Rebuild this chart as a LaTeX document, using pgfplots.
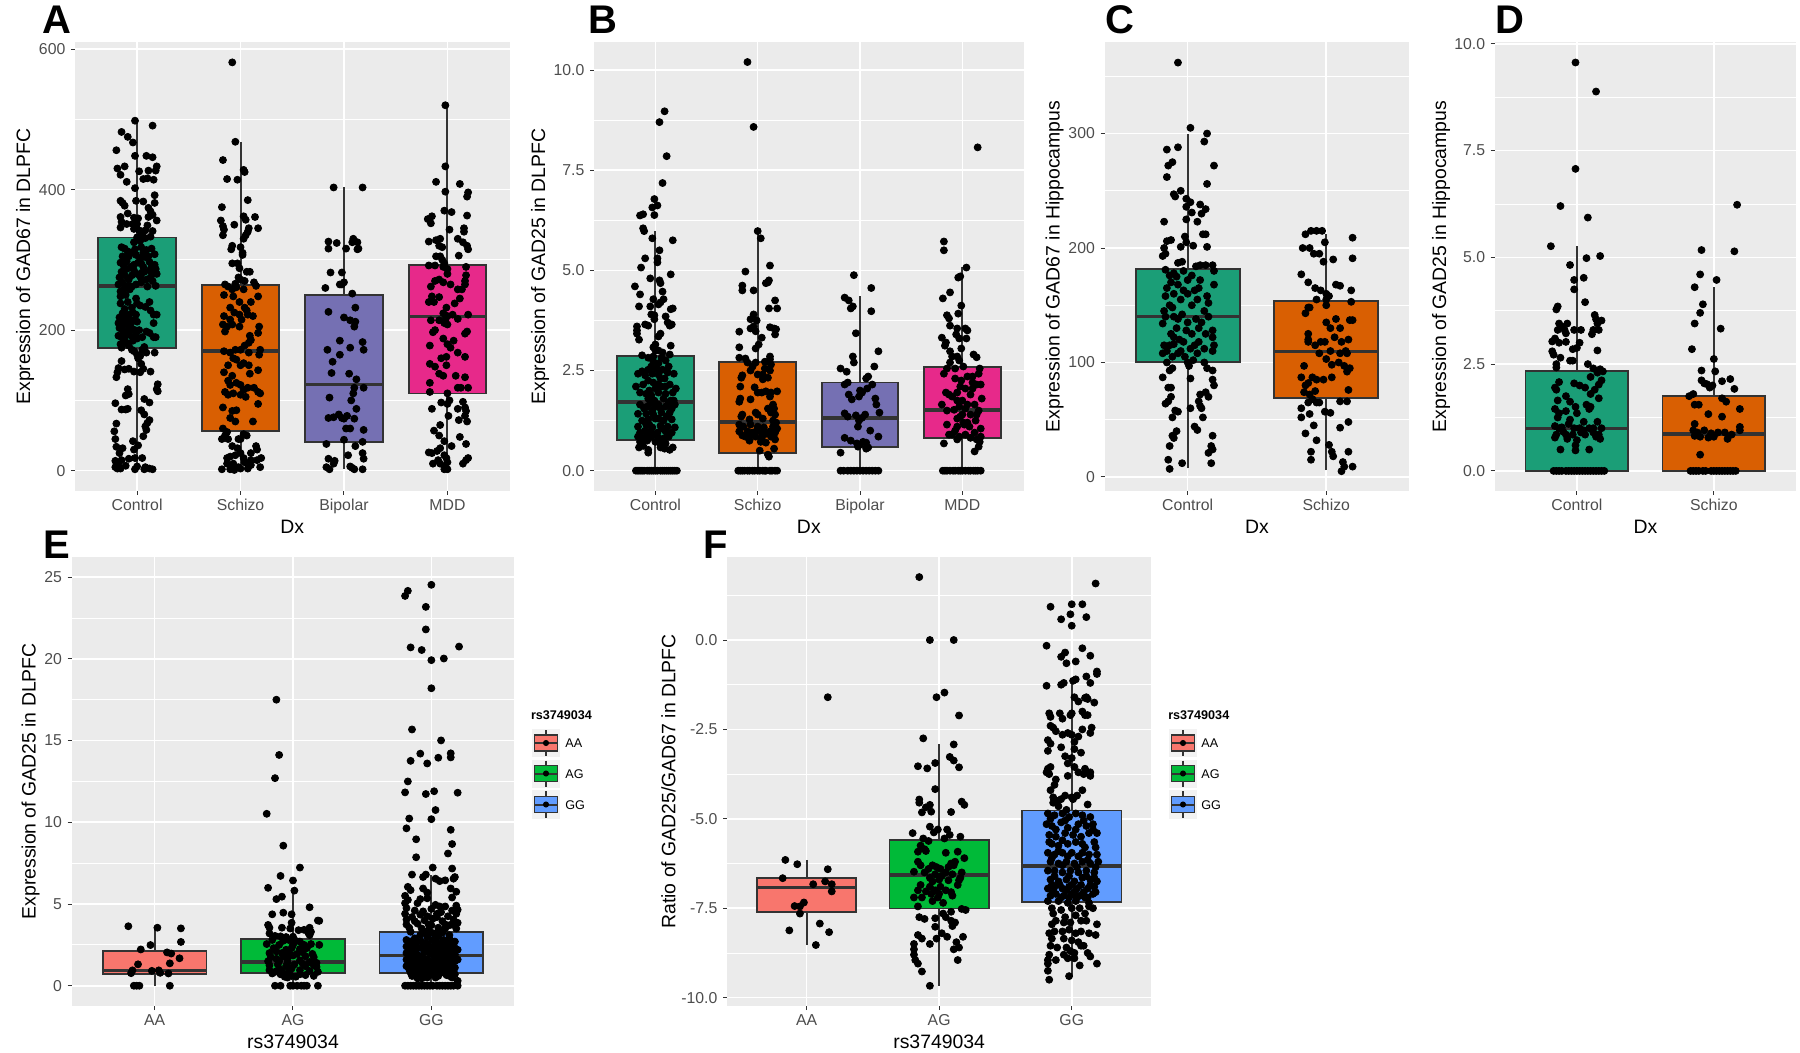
\documentclass[border=0pt]{standalone}
\usepackage{fontspec}
\setmainfont{Liberation Sans}
\usepackage{pgfplots}
\pgfplotsset{compat=1.18}
\definecolor{ggbg}{HTML}{EBEBEB}
\definecolor{ggtxt}{HTML}{4D4D4D}
\definecolor{ggdark}{HTML}{333333}
\definecolor{dkA}{HTML}{1B9E77}
\definecolor{dkB}{HTML}{D95F02}
\definecolor{dkC}{HTML}{7570B3}
\definecolor{dkD}{HTML}{E7298A}
\definecolor{snpA}{HTML}{F8766D}
\definecolor{snpB}{HTML}{00BA38}
\definecolor{snpC}{HTML}{619CFF}
\newcommand{\tickfont}{\fontsize{7.9}{9}\selectfont}
\newcommand{\titlefont}{\fontsize{9.7}{11}\selectfont}
\newcommand{\legfont}{\fontsize{6.3}{7}\selectfont}
% text at pixel position of the reference
\newcommand{\lab}[4]{\node[anchor=#3,inner sep=0pt] at (#1*0.5pt,-#2*0.5pt) {#4};}
% one box: x, left, right, whisker low, q1, median, q3, whisker high, fill
\newcommand{\ggbox}[9]{%
\addplot[ggdark,line width=1pt] coordinates {(#1,#4) (#1,#8)};
\addplot[draw=ggdark,fill=#9,line width=0.9pt] coordinates {(#2,#5) (#3,#5) (#3,#7) (#2,#7)} --cycle;
\addplot[ggdark,line width=1.8pt] coordinates {(#2,#6) (#3,#6)};}
\pgfplotsset{
  gg/.style={
    scale only axis, axis background/.style={fill=ggbg},
    axis line style={draw=none}, tick align=outside, xtick pos=bottom, ytick pos=left,
    major tick length=2pt, tick style={ggdark,line width=0.5pt}, minor tick length=0pt,
    xmajorgrids, ymajorgrids, yminorgrids,
    major grid style={white,line width=0.8pt}, minor grid style={white,line width=0.4pt},
    tick label style={font=\tickfont,text=ggtxt},
    xticklabel style={yshift=1.4pt}, yticklabel style={xshift=0.7pt},
    xlabel style={at={(rel axis cs:0.5,0)},anchor=center,yshift=-18pt,font=\titlefont},
    xtick={1,2,3,4},
  },
  pts/.style={only marks,mark=*,mark size=1.75pt,black,mark options={draw=black,fill=black}},
  ylab/.style={every axis y label/.style={at={(rel axis cs:0,0.5)},anchor=center,xshift=-#1*0.5pt,rotate=90,font=\titlefont}},
}
\newcommand{\legendkeys}[2]{%
\begin{axis}[at={(#1*0.5pt,-#2*0.5pt)},anchor=north west,scale only axis,width=14pt,height=45pt,hide axis,xmin=0,xmax=28,ymin=0,ymax=90,y dir=reverse,clip=false]
\addplot[fill=black!5,draw=none] coordinates {(0,0) (28,0) (28,28) (0,28)} --cycle;
\addplot[fill=black!5,draw=none] coordinates {(0,30.5) (28,30.5) (28,58.5) (0,58.5)} --cycle;
\addplot[fill=black!5,draw=none] coordinates {(0,61) (28,61) (28,90) (0,90)} --cycle;
\addplot[ggdark,line width=0.6pt] coordinates {(14,1) (14,27)};
\addplot[ggdark,line width=0.6pt] coordinates {(14,31.5) (14,57.5)};
\addplot[ggdark,line width=0.6pt] coordinates {(14,62) (14,89)};
\addplot[fill=snpA,draw=ggdark,line width=0.7pt] coordinates {(2.6,6) (25.5,6) (25.5,22) (2.6,22)} --cycle;
\addplot[fill=snpB,draw=ggdark,line width=0.7pt] coordinates {(2.6,36.5) (25.5,36.5) (25.5,52.5) (2.6,52.5)} --cycle;
\addplot[fill=snpC,draw=ggdark,line width=0.7pt] coordinates {(2.6,67.5) (25.5,67.5) (25.5,83.5) (2.6,83.5)} --cycle;
\addplot[ggdark,line width=1pt] coordinates {(2.6,14) (25.5,14)};
\addplot[ggdark,line width=1pt] coordinates {(2.6,44.5) (25.5,44.5)};
\addplot[ggdark,line width=1pt] coordinates {(2.6,75.5) (25.5,75.5)};
\addplot[only marks,mark=*,mark size=1.3pt,black] coordinates {(14,14) (14,44.5) (14,75.5)};
\end{axis}}
\begin{document}
\begin{tikzpicture}
\path[use as bounding box] (0,0) rectangle (900pt,-526.5pt);
% A
\begin{axis}[gg,ylab=50,at={(75*0.5pt,-42*0.5pt)},anchor=north west,width=217.25pt,height=224.5pt,xmin=0.4,xmax=4.6,ymin=-28.9,ymax=610,
 ytick={0,200,400,600},minor ytick={100,300,500},yticklabels={0,200,400,600},xticklabels={Control,Schizo,Bipolar,MDD},
 xlabel={Dx},ylabel={Expression of GAD67 in DLPFC}]
\ggbox{1}{0.625}{1.375}{0}{174}{262.7}{331.9}{498}{dkA}
\ggbox{2}{1.625}{2.375}{0}{55.9}{170}{263.7}{468}{dkB}
\ggbox{3}{2.625}{3.375}{2}{40.7}{122.5}{249.5}{403}{dkC}
\ggbox{4}{3.625}{4.375}{1}{109.8}{219.6}{292.6}{520.6}{dkD}
\addplot[pts] coordinates {(0.98,498)(1.15,491)(0.85,482)(0.91,475)(0.96,467)(0.80,456)(0.98,448)(1.09,448)(1.15,446)(1.19,433)(0.81,430)(0.88,433)(1.02,426)(1.11,427)(1.18,427)(0.84,421)(0.90,411)(1.06,415)(1.10,416)(1.16,414)(0.98,402)(1.17,392)(0.99,384)(1.06,383)(0.84,384)(0.86,381)(0.88,377)(1.17,381)(1.11,374)(1.13,369)(1.15,364)(0.84,361)(0.91,366)(0.97,360)(1.01,359)(1.11,361)(1.19,356)(0.85,354)(0.90,351)(0.96,351)(1.0,351)(1.10,349)(0.84,346)(0.97,344)(1.02,342)(1.15,341)(1.08,342)(1.05,335)(1.13,333)(1.0,332)(0.97,325)(1.03,327)(1.08,331)
(0.85,318)(0.88,316)(0.91,312)(0.98,315)(1.04,318)(1.09,314)(1.14,316)(0.86,305)(0.92,305)(0.99,307)(1.03,302)(1.08,304)(1.17,308)(0.84,296)(0.9,298)(0.97,293)(1.01,296)(1.06,290)(1.12,297)(1.17,293)(0.85,283)(0.9,287)(0.97,285)(1.0,280)(1.07,283)(1.12,285)(1.18,287)(0.83,275)(0.88,278)(0.92,272)(1.03,276)(1.09,272)(1.13,275)(1.19,280)(0.82,265)(0.86,268)(0.91,263)(0.95,262)(0.99,265)(1.04,268)(1.1,262)(1.15,270)(1.18,263)(0.84,255)(0.87,258)(0.99,245)(1.03,235)(1.08,233)(1.12,240)(0.84,238)(0.88,230)(1.0,238)(1.13,228)(1.16,222)(1.19,222)(0.83,218)(0.86,224)(0.92,222)(0.96,225)(0.99,222)(0.82,210)(0.85,214)(0.89,210)(0.92,206)(0.96,214)(1.0,212)(1.16,210)(0.83,203)(0.87,198)(0.91,198)(0.95,202)(1.02,200)(1.09,198)(1.12,196)(0.85,190)(0.88,190)(0.93,193)(0.99,192)(1.16,190)(1.18,190)(0.82,192)(0.84,180)(0.87,186)(0.85,175)(0.92,178)(0.95,172)(1.07,176)
(0.94,310)(1.06,310)(1.11,305)(0.94,290)(1.04,295)(1.14,290)(0.87,292)(0.95,278)(1.05,282)(1.15,280)(0.93,258)(0.89,250)(0.84,248)(0.91,240)(0.95,232)(0.9,218)(0.94,210)(0.98,200)(0.86,205)(1.0,188)(1.05,190)(0.96,185)(0.9,182)
(0.97,170)(1.0,165)(1.05,172)(1.09,168)(1.17,168)(1.01,160)(1.03,163)(0.85,156)(0.82,146)(0.81,140)(0.80,133)(0.88,144)(0.92,145)(0.97,141)(1.04,152)(1.06,145)(1.03,140)(1.13,141)(1.2,123)(1.19,116)(1.2,113)(0.91,116)(0.92,109)(0.89,107)(0.79,96)(1.07,102)(1.12,97)(0.85,87)(0.89,87)(0.91,88)(1.04,86)(1.07,80)(1.12,72)(1.1,68)(1.08,63)(1.09,58)(0.8,67)(0.78,56)(0.79,45)(1.06,49)(0.96,42)(0.8,34)(0.86,32)(1.01,36)(0.97,30)(0.83,25)(0.85,15)(0.92,17)(0.79,14)(0.98,18)(1.05,18)(0.79,5)(0.84,3)(0.89,7)(0.98,2)(1.0,6)(1.07,2)(1.08,5)(1.12,3)(1.15,2)(0.82,8)(0.81,3)};
\addplot[pts] coordinates {(1.92,581)(1.95,468)(1.83,442)(2.03,428)(2.04,425)(1.87,415)(1.97,414)(2.07,385)(1.82,375)(2.03,362)(2.05,357)(2.14,361)(1.81,356)(1.83,348)(1.84,343)(1.94,350)(2.17,345)(2.08,345)(2.07,340)(2.05,335)(2.03,330)(1.83,335)(1.91,315)(1.92,320)(2,318)(2.02,310)(2.02,307)(1.92,295)(1.97,295)(1.99,288)(2.06,283)(2.09,283)(1.98,275)(2,272)(2.04,270)(1.95,266)(2.13,268)(2.15,263)(1.85,265)(1.88,262)(1.92,258)(1.96,261)(2.03,258)(1.84,250)(1.93,248)(2.17,248)(1.9,232)(1.99,240)(2.1,240)(2.04,232)(2.06,228)(1.94,225)(2.07,222)(2.12,220)(1.84,220)(1.9,215)(1.99,222)(2.01,215)(1.83,208)(1.87,205)(1.92,208)(1.99,205)(2.18,205)(1.85,198)(2.09,192)(2.17,196)(2.1,186)(2.08,182)(2.04,178)(2.19,172)(2.18,165)(1.84,170)(1.9,168)(1.95,172)(2,172)(2.08,168)(1.93,160)(1.96,158)(2,150)(2.03,153)(2.08,150)(1.88,150)(1.84,140)(2.17,143)(1.92,135)(2.09,138)(1.88,128)(1.9,122)(1.96,125)(2,122)(2.03,115)(2.07,118)(2.13,118)(2.17,112)(2.19,110)(1.85,112)(1.88,108)(1.93,110)(2,108)(2.05,105)(1.83,90)(2.17,95)(1.92,85)(1.96,86)(1.9,75)(1.95,70)(2.12,70)(1.83,60)(1.87,55)(1.85,50)(2.03,52)(2.06,50)(2.0,45)(1.98,45)(1.82,45)(1.88,45)(1.92,35)(1.97,32)(2.15,35)(2.16,30)(2.1,25)(2.0,25)(1.87,18)(1.9,20)(1.95,22)(2.03,18)(2.1,15)(2.16,15)(2.2,18)(1.87,10)(1.93,10)(1.98,5)(2.04,12)(2.1,8)(2.19,5)(1.82,2)(1.9,2)(1.94,1)(2,3)(2.07,3)(2.08,8)};
\addplot[pts] coordinates {(2.9,403)(3.18,403)(3.09,330)(3.08,325)(3.13,325)(2.85,326)(2.93,324)(3.13,315)(2.85,316)(3.02,316)(3.14,316)(2.87,282)(2.98,282)(2.96,265)(2.98,265)(2.82,260)(3.0,268)(3.08,252)(3.11,232)(2.85,226)(3.0,218)(3.06,214)(3.11,212)(3.1,205)(3.18,183)(2.96,185)(3.06,175)(3.19,172)(2.84,172)(2.96,165)(2.89,155)(2.88,139)(3.05,138)(3.12,130)(3.1,118)(3.19,118)(3.09,110)(2.86,104)(3.07,100)(3.12,88)(3.03,78)(2.9,76)(2.95,80)(2.85,75)(2.98,75)(3.0,74)(3.1,74)(3.02,60)(3.06,60)(3.19,58)(3,44)(2.83,38)(3.18,41)(3.11,35)(2.85,17)(3.18,25)(3.04,22)(2.91,14)(3.19,17)(2.9,10)(2.83,5)(3.06,6)(3.08,4)(2.86,2)(3.1,2)(3.18,2)};
\addplot[pts] coordinates {(3.98,520)(3.98,433)(3.89,411)(4.12,408)(3.98,397)(4.2,396)(4.19,390)(3.97,370)(4.04,368)(3.81,358)(3.85,362)(4.19,363)(3.84,352)(4.16,345)(4.16,340)(4.02,343)(3.82,326)(3.89,328)(3.93,330)(4.1,330)(4.15,325)(3.92,320)(3.95,318)(4.19,320)(3.93,305)(3.89,305)(3.95,300)(4.2,315)(4.11,306)(3.97,295)(4.0,287)(3.96,290)(3.88,292)(3.82,292)(4.18,290)(4.0,280)(4.18,278)(4.17,270)(3.88,270)(3.92,272)(3.84,262)(4.03,265)(4.17,265)(3.96,268)(4.1,258)(4.14,258)(3.85,248)(3.82,240)(3.87,240)(3.92,247)(4.07,238)(4.12,245)(3.99,232)(3.96,224)(4.0,220)(3.98,215)(4.05,222)(4.2,222)(4.1,216)(3.84,214)(3.92,214)(3.97,210)(4.0,208)(3.88,200)(3.86,197)(4.19,198)(4.17,195)(3.96,188)(4.06,185)(4.0,180)(4.03,175)(3.83,178)(4.1,168)(3.94,160)(3.99,162)(4.17,162)(3.83,152)(3.88,148)(3.99,150)(3.92,138)(3.96,135)(4.08,135)(4.17,133)(3.83,125)(4.1,118)(4.13,118)(4.2,118)(3.83,112)(4.0,110)(4.02,100)(3.94,97)(4.0,95)(4.15,98)(4.17,90)(4.18,85)(3.85,88)(4.1,88)(4.17,78)(4.01,78)(3.93,65)(4.11,72)(4.19,70)(3.87,57)(3.92,50)(4.12,48)(3.97,42)(4.18,38)(3.93,32)(3.9,28)(3.82,26)(3.85,25)(4.04,35)(3.97,22)(3.99,18)(4.2,18)(4.18,15)(3.91,15)(4,12)(3.86,10)(3.93,10)(4.15,10)(3.98,5)(4.0,2)(3.97,2)};
\end{axis}
% B
\begin{axis}[gg,ylab=54,at={(594*0.5pt,-42*0.5pt)},anchor=north west,width=214.85pt,height=224.5pt,xmin=0.4,xmax=4.6,ymin=-0.507,ymax=10.7,
 ytick={0,2.5,5,7.5,10},minor ytick={1.25,3.75,6.25,8.75},yticklabels={0.0,2.5,5.0,7.5,10.0},xticklabels={Control,Schizo,Bipolar,MDD},
 xlabel={Dx},ylabel={Expression of GAD25 in DLPFC}]
\ggbox{1}{0.625}{1.375}{0}{0.77}{1.72}{2.87}{5.98}{dkA}
\ggbox{2}{1.625}{2.375}{0}{0.44}{1.22}{2.72}{6.0}{dkB}
\ggbox{3}{2.625}{3.375}{0}{0.6}{1.32}{2.2}{4.36}{dkC}
\ggbox{4}{3.625}{4.375}{0}{0.81}{1.52}{2.58}{5.09}{dkD}
\addplot[pts] coordinates {(1.09,8.97)(1.04,8.7)(1.11,7.85)(1.07,7.18)(0.99,6.78)(1.02,6.62)(0.97,6.57)(0.99,6.38)(0.85,6.37)(0.88,6.4)(0.88,6.05)(0.89,5.98)(0.97,5.8)(1.17,5.75)(1.04,5.5)(1.02,5.3)(1.02,5.2)(0.9,5.3)(0.86,5.07)(1.15,4.9)(0.95,4.8)(1.04,4.75)(1.05,4.68)(0.8,4.6)(1.07,4.47)(0.85,4.4)(0.98,4.28)(1.08,4.28)(1.05,4.2)(1.03,4.15)(0.84,4.1)(0.95,4.1)(1.17,4.05)(1.15,4.03)(0.96,3.9)(0.99,3.88)(1.1,3.85)(0.99,3.78)(1.12,3.7)(0.82,3.6)(0.9,3.65)(0.93,3.62)(1.14,3.62)(1.16,3.65)(0.82,3.5)(0.82,3.42)(1.05,3.42)(1.03,3.35)(0.84,3.27)(1.0,3.15)(0.98,3.08)(1.15,3.12)(1.0,3.0)(1.03,3.0)(1.07,2.95)(1.14,2.9)(0.87,2.88)(0.93,2.82)(0.98,2.85)(1.06,2.82)(1.1,2.75)(0.98,2.72)(1.03,2.68)(1.13,2.6)(0.93,2.52)(1.01,2.55)(1.07,2.52)(0.87,2.48)(0.83,2.42)(0.9,2.38)(0.97,2.42)(1.03,2.4)(1.12,2.45)(1.18,2.42)(1.09,2.3)(0.93,2.25)(0.98,2.2)(1.03,2.15)(1.14,2.15)(0.81,2.1)(1.06,2.1)(1.2,2.05)(0.85,1.95)(0.91,1.92)(0.96,1.88)(1.03,1.95)(1.1,1.92)(1.17,1.95)(0.93,1.8)(0.99,1.75)(1.08,1.8)(1.15,1.75)(1.18,1.75)(0.85,1.65)(0.95,1.68)(1.03,1.65)(1.1,1.6)(1.19,1.65)(0.89,1.55)(0.97,1.5)(1.05,1.55)(1.16,1.55)(0.83,1.42)(0.91,1.42)(0.98,1.4)(1.06,1.45)(1.14,1.45)(0.87,1.25)(0.93,1.28)(1.0,1.3)(1.08,1.25)(1.16,1.28)(0.83,1.1)(0.91,1.15)(0.97,1.08)(1.05,1.12)(1.12,1.1)(1.19,1.08)(0.85,0.95)(0.95,0.98)(1.02,0.95)(1.1,0.98)(1.16,0.95)(0.83,0.85)(0.89,0.82)(0.96,0.85)(1.03,0.82)(1.08,0.8)(0.85,0.72)(0.92,0.75)(1.0,0.72)(1.05,0.65)(1.1,0.68)(0.84,0.58)(0.88,0.62)(1.05,0.58)(1.09,0.55)(1.17,0.58)(0.93,0.52)(0.93,0.45)(1.14,0.52)
(0.96,2.6)(1.05,2.3)(1.1,2.1)(0.88,2.15)(1.0,2.05)(0.94,2.0)(1.13,1.7)(1.0,1.6)(0.92,1.6)(1.11,1.35)(1.03,1.3)(0.94,1.15)(1.07,1.05)(0.9,1.0)(1.0,0.9)(0.92,0.88)(1.13,0.85)(0.81,0)(0.83,0)(0.85,0)(0.87,0)(0.89,0)(0.92,0)(0.94,0)(0.96,0)(0.98,0)(1.0,0)(1.02,0)(1.05,0)(1.07,0)(1.09,0)(1.11,0)(1.13,0)(1.15,0)(1.17,0)(1.19,0)(1.21,0)};
\addplot[pts] coordinates {(1.9,10.2)(1.96,8.58)(2.0,5.98)(2.03,5.8)(2.12,5.12)(2.11,4.75)(2.1,4.7)(1.88,4.97)(2.08,4.68)(1.85,4.62)(1.85,4.5)(1.96,4.5)(2.17,4.25)(2.11,4.05)(2.19,4.05)(1.96,3.9)(1.93,3.78)(1.99,3.75)(1.96,3.6)(2.12,3.58)(2.16,3.55)(2.18,3.53)(1.93,3.55)(1.98,3.48)(1.82,3.47)(2.04,3.32)(2.17,3.4)(2.01,3.15)(1.98,3.05)(1.82,3.08)(2.12,2.85)(1.82,2.82)(1.88,2.8)(2.12,2.78)(1.9,2.7)(1.98,2.7)(2.07,2.72)(2.13,2.65)(1.95,2.6)(2.07,2.55)(1.93,2.5)(2.12,2.5)(1.85,2.38)(2.0,2.4)(2.05,2.4)(2.1,2.32)(1.84,2.32)(2.05,2.28)(2.0,1.95)(1.83,2.1)(1.97,2.08)(2.04,1.95)(2.08,1.98)(2.19,1.98)(2.13,1.95)(2.12,1.85)(1.83,1.8)(1.82,1.72)(1.93,1.78)(2.15,1.65)(2.16,1.55)(1.85,1.4)(1.84,1.35)(1.98,1.45)(2.0,1.4)(2.05,1.3)(2.17,1.4)(2.15,1.25)(1.92,1.28)(1.82,1.15)(1.86,1.1)(1.93,1.15)(2.0,1.1)(2.06,1.08)(2.15,1.1)(2.19,1.05)(1.82,0.98)(1.9,0.98)(1.95,0.95)(2.04,0.95)(2.08,0.92)(2.17,0.95)(1.85,0.88)(1.93,0.88)(2.13,0.85)(2.17,0.78)(1.92,0.75)(2.03,0.72)(2.08,0.7)(2.16,0.55)(2.02,0.5)(2.1,0.4)(2.11,0.35)
(2.1,1.55)(2.13,1.45)(2.18,1.2)(1.98,0.85)(2.12,0.98)(2.04,0.82)(1.88,0.85)(1.99,1.0)
(1.81,0)(1.83,0)(1.85,0)(1.87,0)(1.9,0)(1.92,0)(1.95,0)(1.97,0)(2.0,0)(2.02,0)(2.05,0)(2.07,0)(2.08,0)(2.12,0)(2.14,0)(2.17,0)(2.19,0)};
\addplot[pts] coordinates {(2.94,4.88)(3.11,4.56)(2.85,4.32)(2.89,4.25)(2.93,4.1)(2.91,4.05)(3.11,3.98)(2.96,3.43)(3.18,2.98)(2.93,2.85)(2.94,2.7)(3.14,2.6)(2.81,2.55)(2.87,2.47)(3.08,2.35)(3.06,2.3)(2.88,2.2)(2.85,2.15)(3.12,2.15)(3.07,2.05)(3,2.0)(2.89,1.9)(3.02,1.95)(2.99,1.85)(2.92,1.78)(3.15,1.8)(3.16,1.65)(3.19,1.45)(2.85,1.43)(2.88,1.35)(2.96,1.38)(2.99,1.25)(3.02,1.32)(3.05,1.4)(2.98,1.1)(3.1,1.0)(3.18,0.85)(2.85,0.82)(2.91,0.75)(2.97,0.68)(3,0.65)(3.03,0.72)(3.06,0.7)(2.98,0.6)(3.08,0.58)(3.06,0.55)(2.81,0.45)
(2.81,0)(2.84,0)(2.88,0)(2.91,0)(2.94,0)(2.97,0)(3.0,0)(3.03,0)(3.06,0)(3.09,0)(3.12,0)(3.15,0)(3.18,0)};
\addplot[pts] coordinates {(4.15,8.07)(3.82,5.72)(3.82,5.5)(4.04,5.07)(3.98,4.85)(3.96,4.82)(3.81,4.3)(3.88,4.45)(3.99,4.12)(3.85,3.88)(3.96,3.92)(3.87,3.8)(3.88,3.62)(3.95,3.55)(4.03,3.55)(4.05,3.5)(3.94,3.4)(3.97,3.3)(4.04,3.3)(3.8,3.32)(3.84,3.2)(3.83,3.12)(3.99,3.05)(3.88,2.98)(4.11,2.9)(3.9,2.85)(4.14,2.83)(3.95,2.85)(3.97,2.75)(3.88,2.7)(4.17,2.55)(3.85,2.55)(3.93,2.55)(4.01,2.6)(3.82,2.42)(4.1,2.35)(4.05,2.35)(4.16,2.42)(3.99,2.25)(4.1,2.2)(4.14,2.15)(4.18,2.15)(3.84,1.95)(3.87,1.9)(3.95,1.95)(4.03,2.05)(4.08,1.9)(4.19,1.8)(3.9,1.85)(3.95,1.75)(4.0,1.75)(3.8,1.65)(4.05,1.65)(4.12,1.65)(4.03,1.55)(4.16,1.5)(3.85,1.5)(3.92,1.52)(4,1.4)(4.08,1.4)(4.14,1.4)(3.95,1.3)(4.01,1.2)(4.05,1.2)(4.13,1.25)(3.85,1.15)(3.95,1.1)(4.02,1.15)(4.18,1.05)(3.87,0.9)(3.9,0.9)(4.03,0.9)(3.97,0.85)(4.08,0.82)(4.18,0.85)(3.95,0.78)(4.14,0.78)(3.82,0.68)(4.17,0.72)(4.16,0.6)(4.12,0.48)
(3.93,2.3)(3.98,2.1)(3.97,1.6)(4.07,1.1)(3.98,1.35)(4.1,2.05)(3.93,1.0)(4.12,0.95)
(3.81,0)(3.83,0)(3.85,0)(3.88,0)(3.91,0)(3.93,0)(3.96,0)(3.98,0)(4.0,0)(4.03,0)(4.06,0)(4.08,0)(4.11,0)(4.13,0)(4.15,0)(4.18,0)};
\end{axis}
% C
\begin{axis}[gg,ylab=50,at={(1104.5*0.5pt,-42*0.5pt)},anchor=north west,width=152.45pt,height=224.5pt,xmin=0.4,xmax=2.6,ymin=-12.3,ymax=380,
 ytick={0,100,200,300},minor ytick={50,150,250,350},yticklabels={0,100,200,300},xtick={1,2},xticklabels={Control,Schizo},
 xlabel={Dx},ylabel={Expression of GAD67 in Hippocampus}]
\ggbox{1}{0.625}{1.375}{7.5}{100.5}{140}{182}{300}{dkA}
\ggbox{2}{1.625}{2.375}{6}{69}{109.5}{153.5}{212}{dkB}
\addplot[pts] coordinates {(0.93,362)(1.02,305)(1.14,300)(1.12,293)(0.85,286)(0.93,288)(0.89,275)(0.86,272)(1.19,272)(0.85,262)(1.14,256)(0.95,250)(0.9,247)(0.91,245)(0.99,243)(1.02,240)(0.99,236)(1.09,238)(1.13,234)(1.03,231)(1.1,230)(0.99,225)(1.07,223)(0.83,223)(1.11,212)(1.13,212)(0.98,210)(0.88,207)(0.85,206)(0.83,200)(0.99,205)(0.95,201)(1.04,202)(1.14,201)(0.84,195)(0.82,193)(0.93,187)(0.96,188)(1.06,184)(1.09,185)(1.13,185)(1.18,185)(0.97,180)(0.84,181)(0.9,178)(1.03,176)(1.19,180)(0.88,170)(0.93,168)(1.0,172)(1.09,172)(1.19,168)(0.85,165)(0.97,163)(1.05,163)(1.14,158)(0.84,158)(0.9,160)(1.0,160)(1.07,155)(1.15,152)(0.83,145)(0.89,148)(0.96,142)(1.03,150)(1.12,145)(0.84,140)(0.93,138)(1.0,135)(1.06,138)(1.15,140)(0.82,134)(0.92,130)(0.99,128)(1.1,135)(1.18,128)(0.88,125)(0.94,120)(1.03,125)(1.18,122)(0.83,115)(0.9,116)(0.97,118)(1.08,118)(1.19,115)(0.85,110)(0.95,110)(1.02,112)(1.12,112)(0.82,108)(0.89,105)(0.98,105)(1.07,108)(1.18,110)(0.85,100)(1.0,100)(1.04,102)(1.12,100)(0.89,95)(1.01,97)(1.14,95)(1.18,93)(0.87,93)(0.82,87)(1.02,86)(1.18,85)(0.88,78)(0.86,78)(1.13,74)(1.19,80)(1.15,70)(1.09,72)(0.88,70)(0.84,64)(0.86,66)(1.08,66)(1.09,62)(1.1,60)(0.91,58)(0.93,57)(0.89,52)(1.02,60)(1.11,52)(1.05,44)(1.07,41)(0.92,40)(0.89,36)(0.9,34)(1.18,36)(1.17,27)(1.18,24)(1.15,21)(0.87,27)(0.86,15)(0.96,12)(1.17,12)(0.87,7)
(0.87,176)(0.92,175)(0.87,150)(1.08,165)(0.95,155)(0.9,140)(1.08,130)(0.9,122)(1.05,115)(0.93,108)(0.87,115)(1.13,125)};
\addplot[pts] coordinates {(1.85,212)(1.89,215)(1.93,215)(1.97,215)(2.19,209)(1.88,200)(1.83,200)(1.99,205)(1.91,195)(1.95,195)(2.19,191)(2.05,190)(1.98,188)(1.82,177)(1.87,170)(2.07,168)(2.1,167)(1.92,165)(1.96,163)(2,160)(2.18,163)(2.02,158)(2.0,155)(1.93,155)(2.0,150)(2.18,153)(1.88,148)(1.85,143)(1.87,148)(2.07,138)(2.17,137)(2.19,137)(2.0,135)(2.03,130)(2.1,130)(1.87,125)(2.06,122)(1.87,120)(2.16,120)(1.96,118)(1.92,115)(1.99,118)(2.11,118)(1.87,118)(2.14,110)(2.03,110)(2.1,108)(2.15,108)(1.95,108)(2.0,103)(2.09,100)(2.04,98)(2.13,97)(1.84,97)(2.17,95)(2.15,92)(2.04,87)(1.82,87)(1.9,87)(1.98,85)(1.93,85)(1.87,82)(1.85,80)(2.16,76)(1.92,75)(1.84,74)(1.88,72)(1.9,68)(1.87,65)(1.93,65)(1.95,65)(2.1,66)(2.15,66)(1.82,60)(1.99,57)(2.03,56)(1.88,55)(1.82,52)(2.16,48)(1.91,45)(2.1,43)(1.85,38)(1.93,32)(2.02,28)(2.04,22)(1.89,22)(2.16,22)(2.05,18)(1.89,15)(2.12,13)(2.13,9)(2.19,9)(2.11,5)};
\end{axis}
% D
\begin{axis}[gg,ylab=53.7,at={(1494.7*0.5pt,-42*0.5pt)},anchor=north west,width=150.65pt,height=224.5pt,xmin=0.4,xmax=2.6,ymin=-0.47,ymax=10.04,
 ytick={0,2.5,5,7.5,10},minor ytick={1.25,3.75,6.25,8.75},yticklabels={0.0,2.5,5.0,7.5,10.0},xtick={1,2},xticklabels={Control,Schizo},
 xlabel={Dx},ylabel={Expression of GAD25 in Hippocampus}]
\ggbox{1}{0.625}{1.375}{0}{0}{0.99}{2.34}{5.26}{dkA}
\ggbox{2}{1.625}{2.375}{0}{0}{0.86}{1.75}{4.3}{dkB}
\addplot[pts] coordinates {(0.99,9.56)(1.14,8.88)(0.99,7.07)(0.88,6.2)(1.08,5.93)(0.81,5.26)(1.07,4.98)(1.17,5.03)(0.95,4.82)(0.98,4.47)(1.05,4.52)(0.98,4.25)(1.06,3.95)(0.86,3.85)(0.85,3.78)(1.13,3.65)(1.14,3.55)(1.15,3.45)(1.18,3.52)(0.87,3.45)(0.89,3.38)(0.93,3.45)(0.86,3.3)(0.91,3.3)(0.92,3.22)(0.98,3.3)(1.03,3.3)(1.12,3.3)(1.16,3.3)(1.11,3.2)(0.84,3.1)(0.82,3.03)(0.87,3.0)(0.92,3.02)(1.02,3.0)(0.97,2.85)(1.0,2.88)(1.15,2.82)(0.82,2.8)(0.83,2.72)(0.88,2.65)(0.95,2.58)(0.97,2.58)(1.08,2.5)(0.85,2.5)(0.85,2.42)(1.12,2.4)(1.17,2.38)(1.19,2.33)(1.15,2.3)(1.1,2.2)(1.18,2.12)(0.87,2.08)(0.98,2.05)(1.02,2.0)(0.84,1.95)(0.85,1.9)(1.06,1.95)(1.13,1.9)(1.16,2.02)(0.92,1.75)(1.1,1.8)(1.16,1.7)(0.86,1.65)(0.95,1.62)(0.99,1.5)(1.07,1.55)(1.09,1.45)(0.84,1.45)(0.87,1.35)(0.92,1.4)(1.0,1.35)(1.1,1.5)(0.86,1.25)(0.95,1.2)(1.05,1.15)(1.15,1.15)(0.84,1.05)(0.89,1.02)(0.94,1.1)(1.02,1.0)(1.09,1.0)(1.18,1.0)(0.85,0.85)(0.9,0.92)(0.97,0.85)(1.03,0.9)(1.12,0.9)(1.14,0.8)(0.84,0.78)(0.93,0.75)(1.0,0.72)(1.17,0.75)(0.99,0.6)(0.99,0.48)(0.88,0.5)(1.09,0.5)
(1.06,0.85)(0.92,0.85)(1.05,0.95)(0.98,1.0)(1.12,1.0)(1.16,0.85)(0.87,1.0)
(0.83,0)(0.85,0)(0.87,0)(0.89,0)(0.92,0)(0.94,0)(0.96,0)(0.98,0)(1.0,0)(1.02,0)(1.04,0)(1.06,0)(1.08,0)(1.1,0)(1.12,0)(1.14,0)(1.16,0)(1.18,0)(1.2,0)};
\addplot[pts] coordinates {(2.17,6.23)(1.91,5.17)(2.15,5.14)(1.9,4.6)(2.02,4.47)(1.86,4.3)(1.92,3.9)(1.9,3.7)(1.86,3.45)(2.05,3.33)(1.84,2.85)(2,2.62)(1.91,2.35)(2.01,2.33)(1.91,2.12)(1.93,2.05)(2.12,2.15)(2.06,2.1)(1.95,2.03)(1.97,1.95)(1.99,2.0)(2.15,1.92)(1.85,1.8)(1.82,1.75)(1.86,1.55)(2.06,1.7)(2.09,1.62)(1.89,1.55)(2.19,1.45)(1.96,1.33)(2.06,1.27)(1.86,1.1)(2.19,1.03)(1.85,0.95)(1.88,0.9)(1.93,0.95)(1.98,0.88)(2.03,0.9)(2.08,0.9)(2.13,0.85)(2.19,0.95)(1.86,0.82)(1.9,0.8)(1.96,0.78)(2.0,0.8)(2.1,0.75)(1.9,0.38)
(1.83,0)(1.85,0)(1.87,0)(1.89,0)(1.92,0)(1.94,0)(1.98,0)(2.0,0)(2.02,0)(2.04,0)(2.06,0)(2.08,0)(2.1,0)(2.12,0)(2.14,0)(2.16,0)};
\end{axis}
% E
\begin{axis}[gg,ylab=41,at={(71.6*0.5pt,-556.7*0.5pt)},anchor=north west,width=221.4pt,height=224.65pt,xmin=0.4,xmax=3.6,ymin=-1.24,ymax=26.25,
 ytick={0,5,10,15,20,25},minor ytick={2.5,7.5,12.5,17.5,22.5},yticklabels={0,5,10,15,20,25},xtick={1,2,3},xticklabels={AA,AG,GG},
 xlabel={rs3749034},ylabel={Expression of GAD25 in DLPFC}]
\ggbox{1}{0.625}{1.375}{0}{0.71}{0.94}{2.14}{3.64}{snpA}
\ggbox{2}{1.625}{2.375}{0}{0.77}{1.46}{2.85}{5.93}{snpB}
\ggbox{3}{2.625}{3.375}{0}{0.79}{1.85}{3.28}{6.76}{snpC}
\addplot[pts] coordinates {(0.81,3.64)(1.02,3.55)(1.19,3.51)(1.19,2.68)(0.97,2.49)(0.9,2.22)(1.09,2.04)(1.12,1.97)(1.18,1.68)(1.11,1.37)(0.88,1.31)(0.98,0.91)(1.03,0.94)(1.04,0.79)(0.84,0.94)(0.83,0.77)(1.1,0.75)(0.85,0)(0.87,0)(0.89,0)(1.11,0)};
\addplot[pts] coordinates {(1.88,17.5)(1.9,14.12)(1.87,12.7)(1.81,10.52)(1.93,8.57)(2.05,7.23)(1.91,6.72)(2,6.44)(1.82,5.99)(2.01,5.82)(1.92,5.45)(1.88,5.3)(2.12,4.8)(1.85,4.37)(1.93,4.47)(1.99,4.37)(2.18,3.99)(2.19,3.97)(1.99,3.85)(1.82,3.72)(1.83,3.55)(1.92,3.55)(1.98,3.5)(2.04,3.4)(2.08,3.42)(2.12,3.55)(2.13,3.3)(2.11,3.25)(1.83,3.2)(1.87,3.05)(1.91,3.02)(1.95,2.98)(2,3)(2.12,3.1)(1.85,2.8)(1.97,2.8)(2.02,2.75)(1.81,2.55)(1.9,2.5)(2.0,2.5)(2.08,2.5)(2.13,2.55)(2.19,2.5)(1.95,2.2)(2.05,2.25)(2.1,2.3)(1.83,2.0)(1.88,2.1)(1.97,2.0)(2.07,2.05)(2.14,1.95)(1.84,1.75)(1.93,1.8)(2.0,1.85)(2.09,1.8)(2.15,1.75)(1.82,1.5)(1.9,1.5)(1.96,1.4)(2.05,1.55)(2.12,1.45)(2.17,1.4)(1.83,1.25)(1.89,1.3)(1.95,1.2)(2.01,1.3)(2.09,1.2)(2.17,1.15)(1.83,0.95)(1.87,0.85)(1.92,0.9)(1.97,0.85)(2.05,0.95)(2.12,0.9)(2.18,0.85)(1.85,0.75)(1.91,0.7)(1.99,0.6)(2.05,0.7)(2.15,0.6)(2.02,0.55)(1.96,0.5)
(1.93,2.75)(2.05,2.7)(1.86,2.3)(1.99,2.3)(1.92,2.0)(2.03,1.95)(1.88,1.65)(1.96,1.65)(2.07,1.35)(1.99,1.05)(1.9,1.05)(2.09,0.65)(1.94,0.55)(2.15,1.25)
(1.87,0)(1.91,0)(1.98,0)(2,0)(2.03,0)(2.06,0)(2.08,0)(2.1,0)(2.18,0)};
\addplot[pts] coordinates {(2.81,23.85)(2.83,24.16)(3,24.53)(2.96,23.18)(2.96,21.8)(2.85,20.7)(2.93,20.54)(3.2,20.75)(3,19.92)(3.09,20.02)(3,18.2)(2.86,15.68)(3.07,15.01)(2.92,14.2)(3.14,14.22)(3.14,13.97)(3.05,13.95)(2.85,13.76)(2.97,13.6)(2.83,12.5)(2.81,11.83)(2.96,11.73)(3.02,11.9)(3.19,11.81)(3.03,10.75)(2.84,10.23)(3,10.19)(2.82,9.63)(3.14,9.54)(2.89,8.96)(3.15,8.67)(3.12,8.09)(2.89,7.86)(3.01,7.23)(3.15,7.17)(2.86,6.8)(2.94,6.65)(2.96,6.8)(3.03,6.55)(3.06,6.4)(3.1,6.45)(3.17,6.65)(3.16,6.55)(2.83,6.05)(2.85,5.85)(2.94,5.95)(3.14,5.95)(3.18,5.75)(2.97,5.7)(2.81,5.5)(2.83,5.25)(2.92,5.3)(2.97,5.35)(3.15,5.4)(2.81,5.05)(2.9,5.05)(3.03,4.95)(3.06,4.85)(3.1,4.85)(3.18,4.9)(2.82,4.75)(2.88,4.6)(3,4.7)(3.15,4.6)(3.19,4.65)(2.81,4.4)(2.86,4.2)(2.92,4.35)(2.97,4.25)(3.04,4.4)(3.12,4.25)(3.18,4.4)(2.82,4.05)(2.88,3.95)(2.95,4.0)(3.01,4.1)(3.08,3.95)(3.16,4.05)(2.82,3.75)(2.9,3.8)(3.0,3.7)(3.15,3.75)(3.19,3.85)(2.84,3.55)(2.93,3.5)(3.05,3.55)(3.1,3.5)(2.98,3.4)(3.18,3.5)(2.85,3.3)(3.02,3.2)(3.08,3.25)(3.13,3.1)
(2.82,2.8)(2.84,2.6)(2.82,2.4)(2.84,2.2)(2.82,2)(2.84,1.8)(2.82,1.6)(2.84,1.4)(2.82,1.2)(2.84,1)(2.85,0.8)(2.88,2.9)(2.88,2.5)(2.88,2.1)(2.88,1.7)(2.88,1.3)(2.88,0.9)(2.88,0.6)(2.93,2.7)(2.93,2.3)(2.93,1.8)(2.93,1.4)(2.93,1)(2.93,0.7)(2.93,0.45)(2.97,3)(2.97,2.6)(2.97,2.2)(2.97,1.6)(2.97,1.2)(2.97,0.8)(2.97,0.5)(3.01,2.8)(3.01,2.3)(3.01,1.9)(3.01,1.5)(3.01,1.1)(3.01,0.7)(3.05,3)(3.05,2.6)(3.05,2.2)(3.05,1.8)(3.05,1.4)(3.05,1)(3.05,0.6)(3.09,2.8)(3.09,2.4)(3.09,2)(3.09,1.6)(3.09,1.2)(3.09,0.8)(3.13,2.9)(3.13,2.5)(3.13,2.1)(3.13,1.7)(3.13,1.3)(3.13,0.9)(3.13,0.6)(3.17,2.7)(3.17,2.3)(3.17,1.9)(3.17,1.5)(3.17,1.1)(3.17,0.7)(3.19,2.2)(3.19,1.6)(3.19,0.3)
(2.85,2.7)(2.86,2.3)(2.86,1.9)(2.86,1.5)(2.86,1.1)(2.86,0.6)(2.9,2.7)(2.9,2.3)(2.9,1.9)(2.9,1.5)(2.9,1.1)(2.9,0.75)(2.9,0.45)(2.95,2.5)(2.95,2.05)(2.95,1.6)(2.95,1.2)(2.95,0.85)(2.95,0.55)(2.99,2.4)(2.99,1.95)(2.99,1.4)(2.99,1)(2.99,0.65)(3.03,2.55)(3.03,2.1)(3.03,1.7)(3.03,1.3)(3.03,0.9)(3.03,0.5)(3.07,2.4)(3.07,2)(3.07,1.6)(3.07,1.2)(3.07,0.8)(3.11,2.6)(3.11,2.2)(3.11,1.8)(3.11,1.4)(3.11,1)(3.11,0.65)(3.15,2.7)(3.15,2.3)(3.15,1.9)(3.15,1.5)(3.15,1.1)(3.15,0.8)(3.15,0.5)(3.06,3.3)(3,3.25)(2.92,3.1)(2.95,3.3)(3.1,3.75)(3.04,4.2)(2.94,4.55)(2.98,3.75)(3.07,4.5)(3.13,3.7)
(2.81,0)(2.83,0)(2.85,0)(2.87,0)(2.89,0)(2.91,0)(2.93,0)(2.95,0)(2.97,0)(2.99,0)(3.01,0)(3.04,0)(3.06,0)(3.08,0)(3.1,0)(3.12,0)(3.14,0)(3.16,0)(3.19,0)};
\end{axis}
% F
\begin{axis}[gg,ylab=58.5,at={(727*0.5pt,-556.7*0.5pt)},anchor=north west,width=212.15pt,height=224.65pt,xmin=0.4,xmax=3.6,ymin=-10.235,ymax=2.33,
 ytick={-10,-7.5,-5,-2.5,0},minor ytick={-8.75,-6.25,-3.75,-1.25,1.25},yticklabels={-10.0,-7.5,-5.0,-2.5,0.0},xtick={1,2,3},xticklabels={AA,AG,GG},
 xlabel={rs3749034},ylabel={Ratio of GAD25/GAD67 in DLPFC}]
\ggbox{1}{0.625}{1.375}{-8.53}{-7.6}{-6.92}{-6.65}{-6.15}{snpA}
\ggbox{2}{1.625}{2.375}{-9.67}{-7.51}{-6.57}{-5.6}{-2.92}{snpB}
\ggbox{3}{2.625}{3.375}{-9.43}{-7.32}{-6.32}{-4.77}{-1.16}{snpC}
\addplot[pts] coordinates {(1.16,-1.6)(0.84,-6.15)(0.93,-6.27)(1.16,-6.41)(0.82,-6.66)(1.05,-6.83)(1.14,-6.75)(1.19,-6.83)(1.19,-7.03)(0.98,-7.34)(0.91,-7.44)(0.95,-7.45)(0.95,-7.65)(1.1,-7.93)(0.87,-8.12)(1.17,-8.17)(1.07,-8.53)};
\addplot[pts] coordinates {(1.85,1.76)(1.93,0)(2.11,0)(2.04,-1.47)(1.98,-1.6)(2.15,-2.11)(1.88,-2.75)(2.11,-2.92)(2.08,-3.27)(2.11,-3.37)(1.97,-3.44)(1.84,-3.53)(1.91,-3.59)(2.15,-3.56)(1.97,-4.17)(1.85,-4.46)(1.85,-4.55)(2.17,-4.52)(2.19,-4.61)(1.93,-4.61)(1.9,-4.68)(1.87,-4.82)(1.94,-4.8)(2.09,-4.81)(1.93,-5.22)(1.8,-5.4)(1.99,-5.3)(2.06,-5.3)(1.96,-5.38)(2.08,-5.45)(2.04,-5.55)(2.16,-5.5)(1.88,-5.55)(1.92,-5.62)(1.86,-5.75)(1.89,-5.85)(1.84,-5.92)(1.9,-5.9)(2.05,-5.95)(2.14,-5.92)(2.19,-6.1)(2.12,-6.2)(2.09,-6.25)(1.84,-6.2)(1.86,-6.3)(1.95,-6.3)(1.98,-6.35)(2.01,-6.4)(2.07,-6.35)(2.11,-6.3)(1.81,-6.48)(1.89,-6.5)(1.97,-6.55)(2.02,-6.6)(2.17,-6.5)(2.16,-6.65)(1.95,-6.75)(2.07,-6.72)(2.15,-6.72)(2.14,-6.85)(1.84,-7.0)(1.9,-7.03)(1.97,-7.0)(2.01,-6.9)(2.09,-7.05)(1.81,-7.2)(1.87,-7.2)(1.94,-7.1)(1.99,-7.2)(2.1,-7.15)(1.95,-7.3)(2.03,-7.35)(1.84,-7.45)(2.17,-7.52)(2.2,-7.55)(2.09,-7.6)(2.03,-7.65)(1.85,-7.75)(1.89,-7.8)(1.97,-7.78)(2.05,-7.75)(2.09,-7.85)(2.12,-7.9)(1.97,-8.02)(2.1,-8.0)(1.84,-8.25)(1.87,-8.35)(1.93,-8.5)(1.98,-8.35)(2.02,-8.2)(2.06,-8.3)(2.18,-8.3)(2.13,-8.45)(2.11,-8.65)(2.15,-8.6)(1.81,-8.5)(1.81,-8.65)(1.81,-8.8)(1.82,-8.95)(1.84,-9.05)(2.14,-8.95)(1.87,-9.27)(1.93,-9.67)
(1.92,-6.4)(2.05,-6.5)(1.93,-6.65)(2.0,-6.7)(2.1,-6.55)(1.86,-6.85)(2.05,-7.0)(2.0,-7.1)(1.93,-6.9)};
\addplot[pts] coordinates {(3.18,1.58)(2.84,0.93)(3,1.0)(3.08,1.0)(2.99,0.72)(2.92,0.58)(3.11,0.64)(3,0.4)(2.81,-0.16)(3.08,-0.23)(2.95,-0.35)(2.92,-0.47)(3.14,-0.44)(3.03,-0.6)(2.96,-0.65)(3.19,-0.88)(3.19,-0.95)(3.11,-1.02)(3.03,-1.1)(3.01,-1.14)(2.94,-1.2)(2.92,-1.25)(3.14,-1.2)(2.81,-1.28)(3.02,-1.6)(3.11,-1.6)(3.12,-1.65)(3.05,-1.72)(3.17,-1.75)(3.1,-1.62)(2.83,-2.05)(2.84,-2.15)(2.91,-2.05)(2.99,-2.1)(3.0,-2.05)(3.08,-2.0)(3.1,-2.1)(3.12,-2.1)(2.93,-2.2)(2.86,-2.45)(2.84,-2.4)(3.08,-2.5)(3.15,-2.45)(3.14,-2.6)(2.88,-2.55)(2.93,-2.65)(2.97,-2.6)(3.0,-2.65)(3.05,-2.7)(3.02,-2.85)(2.82,-2.8)(2.84,-2.9)(2.92,-3.0)(3.02,-3.05)(2.82,-3.1)(3.07,-3.15)(2.95,-3.25)(3,-3.3)(2.97,-3.45)(3.02,-3.55)(3.1,-3.6)(2.82,-3.6)(2.84,-3.55)(2.81,-3.7)(2.83,-3.75)(3.05,-3.7)(3.09,-3.75)(3.14,-3.7)(3.14,-3.8)(2.97,-3.8)(2.88,-3.9)(2.87,-4.05)(2.84,-4.2)(3.08,-4.2)(3.04,-4.35)(2.86,-4.4)(2.95,-4.35)(2.92,-4.45)(3.0,-4.4)(3.01,-4.45)(2.86,-4.55)(2.89,-4.5)(3.12,-4.6)(2.9,-4.65)(2.96,-4.75)
(2.82,-4.85)(2.87,-4.9)(2.93,-4.85)(2.98,-4.95)(3.03,-4.85)(3.08,-4.9)(3.14,-4.95)(2.81,-5.15)(2.85,-5.2)(2.92,-5.1)(2.97,-5.25)(3.05,-5.15)(3.11,-5.2)(3.16,-5.15)(2.83,-5.45)(2.88,-5.5)(2.95,-5.4)(3.01,-5.45)(3.07,-5.5)(3.13,-5.4)(3.19,-5.4)(2.85,-5.7)(2.9,-5.75)(2.97,-5.7)(3.03,-5.65)(3.1,-5.8)(3.17,-5.65)(2.82,-5.95)(2.87,-6)(2.93,-5.95)(3,-5.95)(3.05,-6.05)(3.13,-6)(3.19,-6)(2.84,-6.2)(2.9,-6.25)(2.96,-6.2)(3.02,-6.25)(3.08,-6.2)(3.14,-6.25)(3.2,-6.2)(2.82,-6.45)(2.87,-6.45)(2.93,-6.5)(2.99,-6.45)(3.05,-6.5)(3.11,-6.45)(3.17,-6.5)(2.84,-6.7)(2.9,-6.75)(2.96,-6.7)(3.02,-6.75)(3.08,-6.65)(3.14,-6.7)(3.19,-6.75)(2.82,-6.95)(2.87,-6.9)(2.93,-6.95)(2.98,-6.9)(3.04,-6.95)(3.12,-6.95)(3.17,-6.9)(2.84,-7.15)(2.88,-7.1)(2.94,-7.15)(3,-7.1)(3.06,-7.15)(3.1,-7.2)(3.16,-7.1)(2.82,-7.3)(2.9,-7.3)(2.97,-7.35)(3.03,-7.3)(3.13,-7.35)
(2.84,-5.0)(2.95,-5.05)(3.09,-5.05)(3.16,-5.3)(2.88,-5.3)(3.03,-5.3)(2.83,-5.65)(2.93,-5.6)(3.08,-5.7)(3.18,-5.8)(2.9,-5.9)(3.08,-5.95)(2.85,-6.1)(2.97,-6.05)(3.12,-6.15)(3.18,-6.35)(2.93,-6.3)(3.04,-6.35)(2.87,-6.6)(2.98,-6.6)(3.11,-6.6)(3.17,-6.65)(2.85,-6.85)(2.91,-6.85)(3.0,-6.85)(3.07,-6.85)(3.14,-6.85)(2.86,-7.05)(2.96,-7.0)(3.02,-7.05)(3.09,-7.05)(3.18,-7.05)(2.92,-7.2)(2.98,-7.2)(3.04,-7.2)(3.12,-7.2)
(2.85,-7.5)(2.92,-7.55)(3.0,-7.5)(3.06,-7.5)(3.13,-7.45)(3.16,-7.5)(2.86,-7.65)(2.95,-7.75)(3.03,-7.7)(3.1,-7.65)(2.85,-7.95)(2.88,-7.85)(2.94,-7.9)(2.99,-7.9)(3.07,-7.85)(3.11,-7.85)(3.19,-7.95)(2.83,-8.2)(2.87,-8.15)(2.93,-8.15)(2.98,-8.1)(3.03,-8.2)(3.07,-8.15)(3.13,-8.2)(3.18,-8.25)(2.85,-8.35)(2.94,-8.35)(3.0,-8.4)(3.05,-8.45)(3.09,-8.55)(2.84,-8.55)(2.89,-8.6)(2.96,-8.6)(3.07,-8.55)(2.83,-8.8)(2.94,-8.8)(2.99,-8.7)(3.02,-8.75)(3.12,-8.75)(3.14,-8.85)(2.82,-8.95)(2.88,-8.95)(2.97,-8.9)(3.02,-8.9)(3.06,-9.1)(3.19,-9.05)(2.82,-9.05)(2.82,-9.25)(2.83,-9.5)(2.98,-9.4)};
\end{axis}
\legendkeys{532}{729}
\legendkeys{1169}{729}
% legends text
\lab{530.6}{715.4}{west}{\legfont\bfseries rs3749034}
\lab{565}{743}{west}{\legfont AA}
\lab{565}{774}{west}{\legfont AG}
\lab{565}{805}{west}{\legfont GG}
\lab{1167.9}{715.4}{west}{\legfont\bfseries rs3749034}
\lab{1201}{743}{west}{\legfont AA}
\lab{1201}{774}{west}{\legfont AG}
\lab{1201}{805}{west}{\legfont GG}
% panel letters
\lab{42}{34}{base west}{\fontsize{20}{22}\selectfont\bfseries A}
\lab{588}{34}{base west}{\fontsize{20}{22}\selectfont\bfseries B}
\lab{1105}{34}{base west}{\fontsize{20}{22}\selectfont\bfseries C}
\lab{1495}{34}{base west}{\fontsize{20}{22}\selectfont\bfseries D}
\lab{43}{559}{base west}{\fontsize{20}{22}\selectfont\bfseries E}
\lab{703}{559}{base west}{\fontsize{20}{22}\selectfont\bfseries F}
\end{tikzpicture}
\end{document}
